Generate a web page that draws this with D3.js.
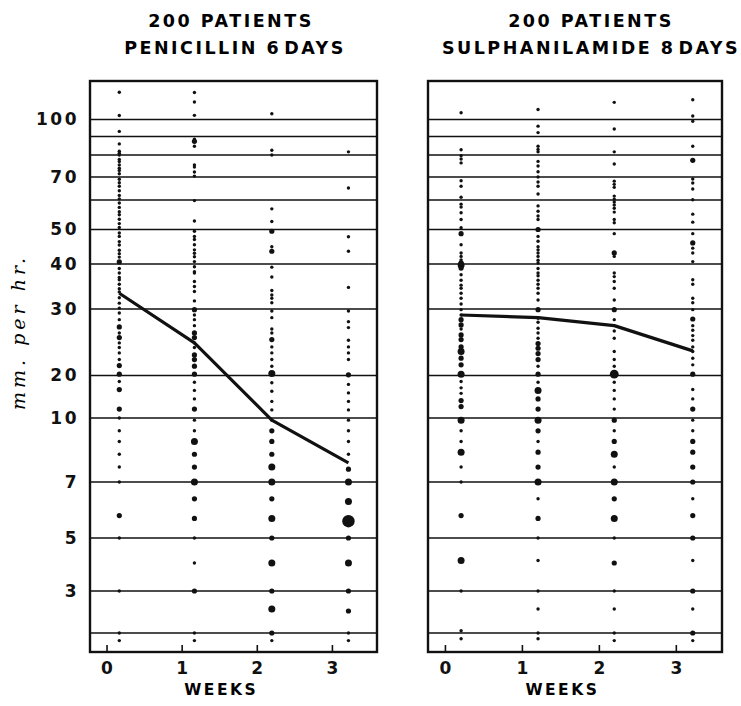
<!DOCTYPE html>
<html>
<head>
  <meta charset="utf-8">
  <title>ESR: penicillin vs sulphanilamide</title>
  <style>
    body { margin: 0; background: #fff; }
    svg { display: block; }
    .title { font-family: "DejaVu Sans", sans-serif; font-weight: bold; font-size: 17.5px; letter-spacing: 2.5px; }
    .tick text { font-family: "DejaVu Sans", sans-serif; font-weight: bold; font-size: 17px; fill: #111; }
    .ylab .tick text { letter-spacing: 2.5px; }
    .weeks { font-family: "DejaVu Sans", sans-serif; font-weight: bold; font-size: 15.5px; letter-spacing: 2.5px; }
    .ytitle { font-family: "DejaVu Serif", serif; font-style: italic; font-size: 19px; letter-spacing: 4px; }
  </style>
  <script src="https://d3js.org/d3.v7.min.js"></script>
</head>
<body>
<div id="chart"></div>
<script>
// ---- data ----
const weekTicks = [0, 1, 2, 3];
const gridValues = [1, 3, 5, 7, 10, 20, 30, 40, 50, 60, 70, 80, 90, 100];
const tickValues = [100, 70, 50, 40, 30, 20, 10, 7, 5, 3];

const penWeeks = [0.17, 1.17, 2.2, 3.22];
const sulWeeks = [0.21, 1.21, 2.2, 3.22];
const penMean = [33.5, 24.9, 9.9, 7.9];
const sulMean = [29.1, 28.7, 27.5, 23.7];

// [mm per hr, number of patients]
const penW0 = [[117,1],[102.5,1],[93,1],[86,1],[82,1],[81,1],[80,1],[78,1],[77,1],[75.5,1],[74,1],[73,1],[71.5,1],[69,1],[67.5,1],[66,1],[64,1],[62,1],[60.5,1],[59,1],[57.5,1],[56,1],[55,1],[53.5,1],[52,1],[50.7,1],[49,1],[48,1],[46.5,1],[45.5,1],[44,1],[43,1],[42,1],[40.6,2],[39,1],[38,1],[37,1],[36.5,1],[35.5,1],[34.5,1],[33.8,1],[32.5,1],[31.3,1],[30.2,1],[29.4,1],[28.4,1],[27.3,2],[26.4,1],[25.7,2],[24.9,1],[24.2,1],[23.4,1],[22.4,1],[21.5,2],[20.2,2],[18.6,1],[16.7,2],[12.1,2],[10,1],[9.4,1],[8.9,1],[8.3,1],[7.7,1],[7,1],[5.8,2],[5,1],[3,1],[1,1],[0.6,1]];
const penW1 = [[116.8,1],[110.9,1],[102.6,1],[88.6,1],[87.4,2],[84.7,1],[75.5,1],[74.5,1],[72.3,1],[70.4,1],[59.8,1],[52.9,1],[49.5,1],[48,1],[47.1,1],[45.6,1],[44.1,1],[43.1,1],[42.1,1],[40.7,1],[39.4,1],[38.3,1],[38,1],[36.1,1],[35,1],[33.9,1],[31.8,1],[29.9,2],[29.1,1],[28.4,1],[27.5,1],[26.4,2],[25.7,2],[24.9,1],[24.2,1],[23.1,2],[22.4,2],[21.4,2],[20.2,2],[18.4,1],[16.5,1],[14.5,1],[12.1,2],[9.9,1],[9.4,1],[8.9,3],[8.3,2],[7.7,2],[7,3],[6.4,2],[5.7,2],[5,1],[4,1],[3,2],[1,1],[0.6,1]];
const penW2 = [[103.6,1],[82.6,1],[80,1],[57,1],[52.7,1],[49.5,2],[45,1],[43.7,2],[39.3,1],[37.1,1],[34.1,1],[33.1,1],[32.4,1],[31.4,1],[29.7,1],[28.7,1],[27,1],[26.4,1],[25.4,2],[24.3,1],[23.4,1],[22.4,1],[21.4,1],[20.3,3],[18.3,1],[16.3,1],[13.9,1],[11.9,1],[9.9,1],[9.4,2],[8.9,2],[8.3,2],[7.7,3],[7,3],[6.4,2],[5.7,3],[5,2],[4,3],[3,2],[2.1,3],[1,2],[0.6,1]];
const penW3 = [[81.7,1],[65.2,1],[47.9,1],[43.7,1],[34.8,1],[29.7,1],[28.1,1],[27.2,1],[25.3,1],[24.3,1],[23.4,1],[22.4,1],[20.1,2],[17.9,1],[15.9,1],[13.9,1],[11.9,1],[9.9,1],[9.4,1],[8.9,1],[8.3,1],[7.6,2],[7,3],[6.3,3],[5.6,6],[5,2],[4,3],[3,2],[2,2],[1,1],[0.6,1]];

const sulW0 = [[104.2,1],[82.8,1],[79.7,1],[78.2,1],[76.4,1],[68.4,1],[66,1],[61.2,1],[58.6,1],[57.6,1],[55.7,1],[53.4,1],[50.6,1],[48.8,2],[45.6,1],[43.2,1],[42.2,1],[41.2,1],[40.3,2],[39.8,3],[39.1,2],[37.6,1],[36.4,1],[35.3,1],[34.6,1],[33.5,1],[32.4,1],[31.1,1],[29.9,1],[29.1,1],[28.4,2],[27.6,2],[27,1],[26.1,2],[25.4,2],[24.3,2],[23.6,3],[22.6,2],[21.6,2],[20.2,3],[18.6,1],[17.1,1],[15.8,1],[14.1,2],[12.7,2],[9.9,3],[9.4,1],[8.9,1],[8.4,3],[7.7,1],[7,1],[5.8,2],[4.1,3],[3,1],[1.1,1],[0.7,1]];
const sulW1 = [[106.2,1],[96.1,1],[92.3,1],[84.7,1],[83,1],[81.7,1],[77.1,1],[75,1],[72.4,1],[70,1],[67.8,1],[66,1],[62.6,1],[58,1],[56.2,1],[54.6,1],[53.4,1],[50,2],[48,1],[46.6,1],[45,1],[44.1,1],[43.2,1],[42.2,1],[41.1,1],[40.3,1],[39,1],[38,1],[37.4,1],[36.4,1],[35.5,1],[34.6,1],[33.5,1],[32,1],[29.9,2],[28.6,1],[28,1],[27.1,1],[26.4,1],[25.6,1],[24.8,2],[24.1,2],[23.3,2],[22.4,2],[21.4,1],[20.2,2],[18.4,1],[16.5,3],[14.5,2],[12.1,2],[9.9,3],[9.4,2],[8.9,1],[8.4,2],[7.7,2],[7,3],[6.4,1],[5.7,2],[5,1],[4.1,1],[3,1],[2.1,1],[1,1],[0.7,1]];
const sulW2 = [[110.7,1],[94.4,1],[81.7,1],[75.9,1],[68.2,1],[66.8,1],[65.5,1],[61.7,1],[60.4,1],[59.3,1],[58.3,1],[57.2,1],[55.9,1],[53.4,1],[52.3,1],[48.8,1],[43.2,2],[42.2,1],[38,1],[37.2,1],[36.1,1],[34.6,1],[32,1],[29.9,2],[28.4,1],[26.7,1],[25.6,1],[23.6,1],[22.4,1],[21.4,1],[20.2,4],[18.4,1],[16.5,1],[14.5,1],[12.1,1],[9.9,2],[9.4,1],[8.9,2],[8.3,3],[7.7,1],[7,3],[6.4,2],[5.7,3],[5,1],[4,2],[3,1],[2.1,1],[1,1],[0.6,1]];
const sulW3 = [[112.3,1],[102.2,1],[99,1],[84.7,1],[77.6,2],[69.1,1],[67.4,1],[64.8,1],[60.1,1],[55.2,1],[52.5,1],[48.8,1],[46.1,2],[44.6,1],[43.2,1],[40.7,1],[36.5,1],[35.5,1],[32.4,1],[31.4,1],[29.9,1],[28.5,2],[27.5,1],[26.8,1],[26,1],[25.3,1],[24.3,1],[23.6,1],[22.6,1],[21.6,1],[20.2,2],[16.7,1],[14.5,1],[12.1,2],[9.9,1],[9.4,1],[8.9,2],[8.4,2],[7.7,2],[7,2],[6.4,1],[5.8,2],[5,2],[4.1,1],[3,2],[2.1,1],[1,2],[0.6,1]];

// ---- layout ----
const W = 741, H = 706;
const plotTop = 81, plotBottom = 652;

// the printed scale is neither linear nor log: piecewise between the ruled values
const yStops = [0, 1, 2, 3, 4, 5, 6, 7, 10, 20, 30, 40, 50, 60, 70, 80, 90, 100, 124];
const yPix   = [652, 633, 611, 591, 563, 538, 510, 482, 418, 375.5, 309, 264, 229.5, 200, 177, 155, 136.5, 119.5, 81];
const y = d3.scaleLinear().domain(yStops).range(yPix);
const r = d3.scaleLinear().domain([1, 6]).range([1.7, 6.2]);

const panels = [
  { left: 90, right: 377, cx: 233, title: ["200 PATIENTS", "PENICILLIN", "6", "DAYS"],
    weeks: penWeeks, cols: [penW0, penW1, penW2, penW3], mean: penMean },
  { left: 428, right: 722, cx: 585, title: ["200 PATIENTS", "SULPHANILAMIDE", "8", "DAYS"],
    weeks: sulWeeks, cols: [sulW0, sulW1, sulW2, sulW3], mean: sulMean }
];

const svg = d3.select('#chart').append('svg')
  .attr('width', W)
  .attr('height', H);

panels.forEach((p, i) => {
  const x = d3.scaleLinear().domain([-0.22, 3.6]).range([p.left, p.right]);
  const g = svg.append('g');

  // titles
  g.append('text').attr('class', 'title')
    .attr('x', p.cx - (i ? -6 : 2)).attr('y', 27).attr('text-anchor', 'middle')
    .text(p.title[0]);
  const t2 = g.append('text').attr('class', 'title')
    .attr('x', p.cx + (i ? 6 : 2)).attr('y', 54).attr('text-anchor', 'middle');
  t2.append('tspan').text(p.title[1] + ' ' + p.title[2]);
  t2.append('tspan').attr('dx', 3).text(p.title[3]);

  // ruled lines
  g.selectAll('line.grid')
    .data(gridValues)
    .join('line')
      .attr('x1', p.left).attr('x2', p.right)
      .attr('y1', d => y(d)).attr('y2', d => y(d))
      .attr('stroke', '#111').attr('stroke-width', 1.3);

  // frame
  g.append('rect')
    .attr('x', p.left).attr('y', plotTop)
    .attr('width', p.right - p.left).attr('height', plotBottom - plotTop)
    .attr('fill', 'none').attr('stroke', '#111').attr('stroke-width', 2.4);

  // dots, one column per week
  p.cols.forEach((col, j) => {
    g.append('g').selectAll('circle')
      .data(col)
      .join('circle')
        .attr('cx', x(p.weeks[j]))
        .attr('cy', d => y(d[0]))
        .attr('r', d => r(d[1]))
        .attr('fill', '#111');
  });

  // mean line
  g.append('path')
    .datum(p.mean.map((m, j) => [p.weeks[j], m]))
    .attr('fill', 'none').attr('stroke', '#111').attr('stroke-width', 3.2)
    .attr('stroke-linejoin', 'round')
    .attr('d', d3.line().x(d => x(d[0])).y(d => y(d[1])));

  // week axis with small inward ticks
  const xa = g.append('g')
    .attr('transform', `translate(0, ${plotBottom})`)
    .call(d3.axisBottom(x).tickValues(weekTicks).tickFormat(d3.format('d'))
      .tickSizeInner(-7).tickSizeOuter(0).tickPadding(10));
  xa.select('.domain').remove();
  xa.selectAll('.tick line').attr('stroke', '#111').attr('stroke-width', 1.6);

  g.append('text').attr('class', 'weeks')
    .attr('x', (x(0) + x(3)) / 2 + 2).attr('y', 695).attr('text-anchor', 'middle')
    .text('WEEKS');
});

// value labels on the left panel only
const ya = svg.append('g')
  .attr('class', 'ylab')
  .attr('transform', `translate(${panels[0].left}, 0)`)
  .call(d3.axisLeft(y).tickValues(tickValues).tickSize(0).tickPadding(11));
ya.select('.domain').remove();

svg.append('text').attr('class', 'ytitle')
  .attr('transform', 'translate(25, 332) rotate(-90)')
  .attr('text-anchor', 'middle')
  .text('mm. per hr.');
</script>
</body>
</html>
